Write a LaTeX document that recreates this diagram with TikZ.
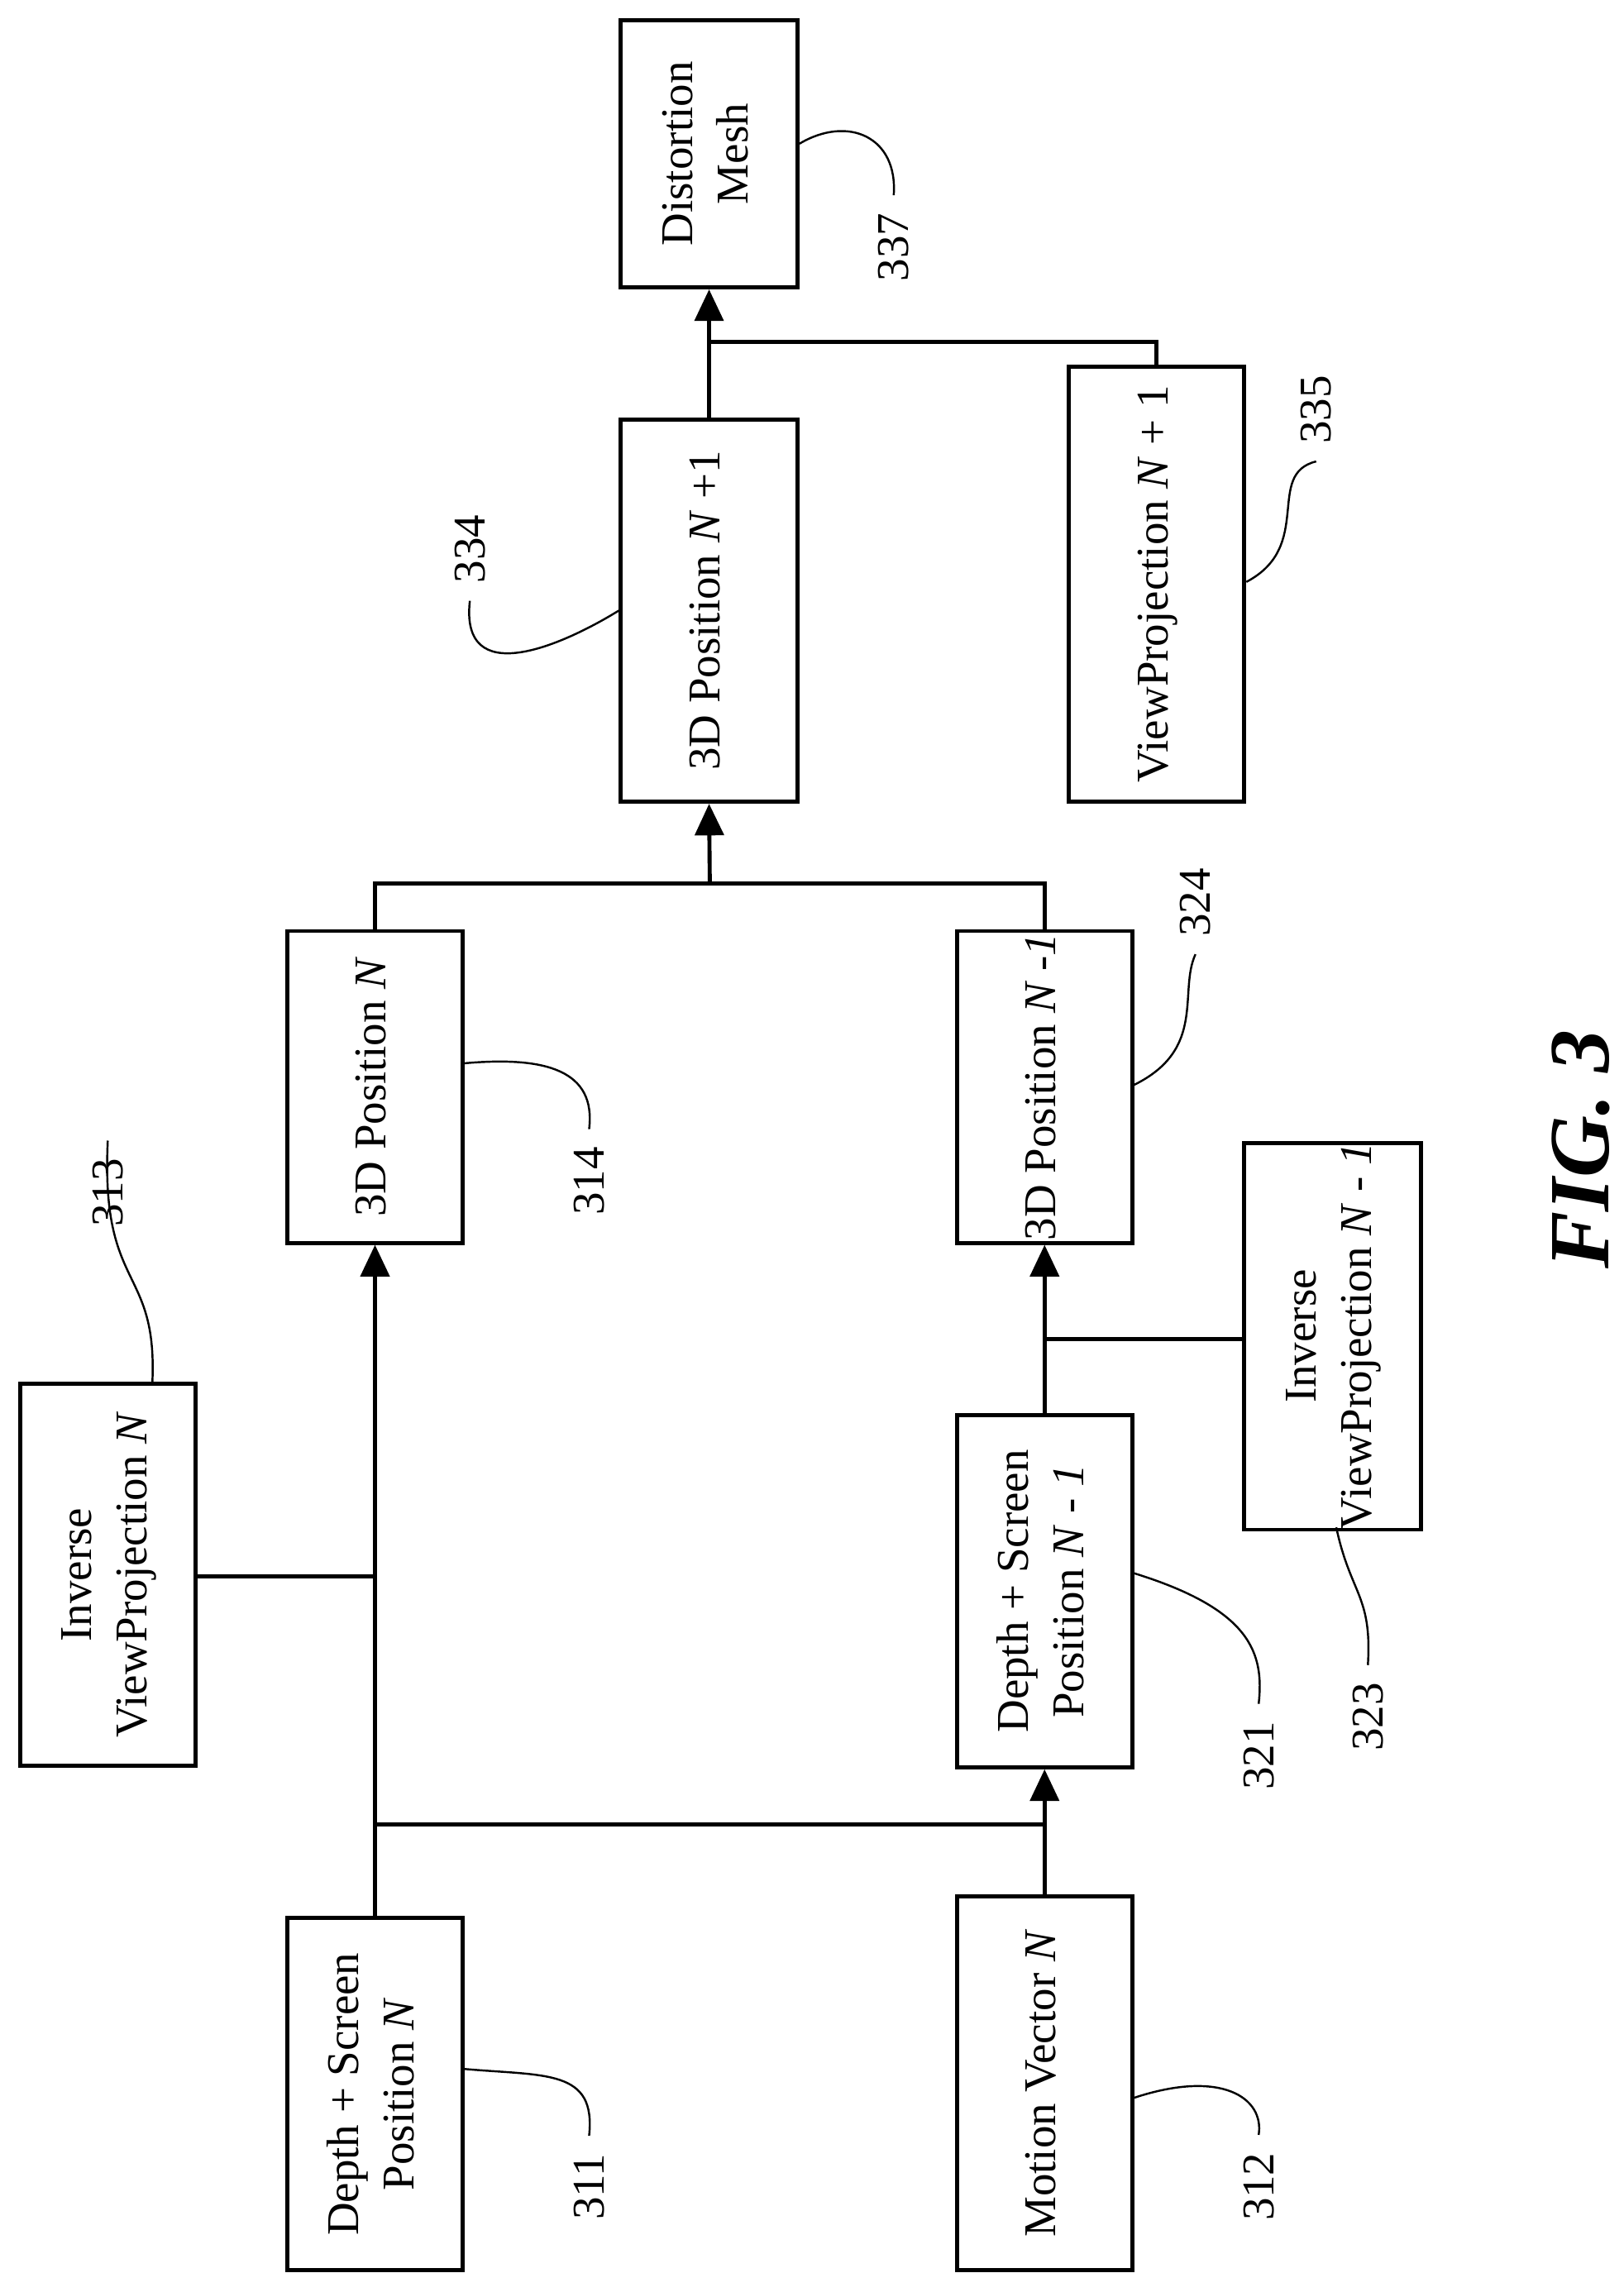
\documentclass[tikz,border=0pt]{standalone}
\usepackage{fontspec}
\setmainfont{Liberation Serif}
\usetikzlibrary{arrows.meta}

\tikzset{
  box/.style={draw, thick, inner sep=0pt, font=\fontsize{9}{11}\selectfont},
  flow/.style={thick, -{Triangle[length=2.2mm, width=2mm]}},
  wire/.style={thick},
  lead/.style={thin},
  num/.style={font=\fontsize{9}{11}\selectfont, rotate=90}
}
\newcommand{\rtext}[1]{\rotatebox{90}{\begin{tabular}{@{}c@{}}#1\end{tabular}}}

\begin{document}
\begin{tikzpicture}[x=0.1mm, y=-0.1mm]
  \useasboundingbox (0,0) rectangle (1130,1582);
  % blocks
  \node[box, minimum width=12.3mm, minimum height=18.6mm] (mesh) at (493.5,107) {\rtext{Distortion\\Mesh}};
  \node[box, minimum width=12.3mm, minimum height=26.6mm] (posnext) at (493.5,425) {\rtext{3D Position \textit{N} +1}};
  \node[box, minimum width=12.2mm, minimum height=30.3mm] (vpnext) at (805,406.5) {\rtext{ViewProjection \textit{N} + 1}};
  \node[box, minimum width=12.2mm, minimum height=21.7mm] (poscur) at (261,756.5) {\rtext{3D Position \textit{N}}};
  \node[box, minimum width=12.2mm, minimum height=21.7mm] (posprev) at (727,756.5) {\rtext{3D Position \textit{N -1}}};
  \node[box, minimum width=12.2mm, minimum height=26.6mm] (invcur) at (75,1096) {\rtext{Inverse\\ViewProjection \textit{N}}};
  \node[box, minimum width=12.2mm, minimum height=24.5mm] (dsprev) at (727,1107.5) {\rtext{Depth + Screen\\Position \textit{N} - \textit{1}}};
  \node[box, minimum width=12.3mm, minimum height=26.6mm] (invprev) at (927.5,930) {\rtext{Inverse\\ViewProjection \textit{N} - \textit{1}}};
  \node[box, minimum width=12.2mm, minimum height=24.5mm] (dscur) at (261,1457.5) {\rtext{Depth + Screen\\Position \textit{N}}};
  \node[box, minimum width=12.2mm, minimum height=26mm] (motion) at (727,1450) {\rtext{Motion Vector \textit{N}}};

  % junctions
  \coordinate (jlow) at (261,1270);
  \coordinate (jinv) at (261,1097);
  \coordinate (jprev) at (727,932);
  \coordinate (jtop) at (494,615);
  \coordinate (jvp) at (494,238);

  % connectors
  \draw[flow] (dscur.north) -- (poscur.south);
  \draw[wire] (jlow) -- (jlow -| motion.north);
  \draw[wire] (motion.north) -- (jlow -| motion.north);
  \draw[flow] (jlow -| motion.north) -- (dsprev.south);
  \draw[wire] (invcur.east |- jinv) -- (jinv);
  \draw[flow] (dsprev.north) -- (posprev.south);
  \draw[wire] (invprev.west |- jprev) -- (jprev);
  \draw[wire] (poscur.north) -- (poscur.north |- jtop) -- (posprev.north |- jtop) -- (posprev.north);
  \draw[flow] (jtop) -- (posnext.south);
  \draw[flow] (posnext.north) -- (mesh.south);
  \draw[wire] (vpnext.north) -- (vpnext.north |- jvp) -- (jvp);

  % reference numerals
  \node[num] (n337) at (622,172) {337};
  \draw[lead] (mesh.east |- 0,100) .. controls (590,80) and (625,95) .. (n337.east);
  \node[num] (n335) at (916,285) {335};
  \draw[lead] (vpnext.east |- 0,405) .. controls (915,380) and (880,330) .. (n335.west);
  \node[num] (n334) at (327,382) {334};
  \draw[lead] (posnext.west |- 0,425) .. controls (390,450) and (320,480) .. (n334.west);
  \node[num] (n314) at (410,822) {314};
  \draw[lead] (poscur.east |- 0,740) .. controls (380,735) and (415,745) .. (n314.east);
  \node[num] (n324) at (832,628) {324};
  \draw[lead] (posprev.east |- 0,755) .. controls (840,730) and (820,690) .. (n324.west);
  \node[num] (n313) at (75,830) {313};
  \draw[lead] (106,963) .. controls (110,880) and (70,900) .. (n313.east);
  \node[num] (n321) at (876,1222) {321};
  \draw[lead] (dsprev.east |- 0,1095) .. controls (870,1120) and (880,1150) .. (n321.east);
  \node[num] (n323) at (952,1195) {323};
  \draw[lead] (930,1063) .. controls (940,1110) and (955,1110) .. (n323.east);
  \node[num] (n311) at (410,1522) {311};
  \draw[lead] (dscur.east |- 0,1440) .. controls (380,1445) and (415,1440) .. (n311.east);
  \node[num] (n312) at (876,1522) {312};
  \draw[lead] (motion.east |- 0,1460) .. controls (850,1440) and (880,1460) .. (n312.east);

  \node[rotate=90, font=\bfseries\itshape\fontsize{17}{20}\selectfont] (fig) at (1100,800) {FIG. 3};
\end{tikzpicture}
\end{document}
